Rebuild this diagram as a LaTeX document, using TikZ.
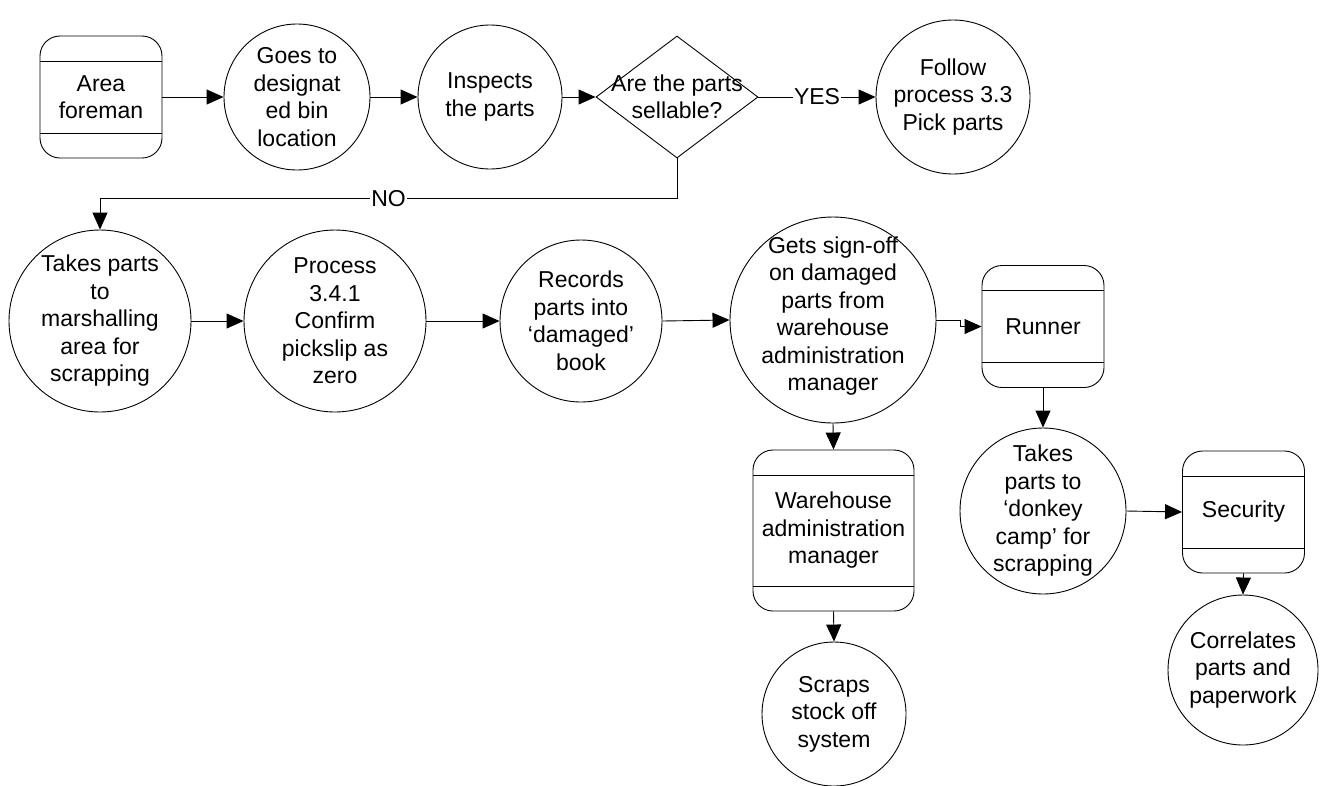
\documentclass[tikz,border=0pt]{standalone}
\usepackage{fontspec}
\setmainfont{Liberation Sans}
\usetikzlibrary{arrows.meta,shapes.geometric}

\begin{document}
\begin{tikzpicture}[x=1pt,y=-1pt,
  every node/.style={font=\fontsize{23}{27.5}\selectfont, align=center},
  txt/.style={inner sep=0pt},
  edge line/.style={line width=0.9pt, draw=black},
  flow/.style={edge line, -{Triangle[length=17pt,width=15pt]}},
  bubble/.style={draw, line width=0.9pt, circle, inner sep=0pt, minimum size=#1},
  actor/.style={draw, line width=0.9pt, rounded corners=20pt, inner sep=0pt,
    minimum width=#1, minimum height=#1,
    path picture={
      \draw[line width=0.9pt]
        ([yshift=-25pt]path picture bounding box.north west) --
        ([yshift=-25pt]path picture bounding box.north east);
      \draw[line width=0.9pt]
        ([yshift=25pt]path picture bounding box.south west) --
        ([yshift=25pt]path picture bounding box.south east);
    }},
  decision/.style={draw, line width=0.9pt, diamond, inner sep=0pt,
    minimum width=162pt, minimum height=122pt},
  tag/.style={fill=white, inner sep=1pt}
]
\fill[white] (0,0) rectangle (1332,785);
\useasboundingbox (0,0) rectangle (1332,785);

% top row
\node[actor=122pt] (fore) at (101,97) {};
\node[txt] (fore-t) at (fore) {Area\\foreman};
\node[bubble=146pt] (goes) at (297,97) {};
\node[txt] (goes-t) at (goes) {Goes to\\designat\\ed bin\\location};
\node[bubble=144pt] (insp) at (490,97) {};
\node[txt] (insp-t) at (insp) {Inspects\\the parts};
\node[decision] (dec) at (677,97) {};
\node[txt] (dec-t) at (dec) {Are the parts\\sellable?};
\node[bubble=154pt] (follow) at (953,97) {};
\node[txt] (follow-t) at (follow) {Follow\\process 3.3\\Pick parts};

% second row
\node[bubble=182pt] (take) at (100,321) {};
\node[txt] (take-t) at (take) {Takes parts\\to\\marshalling\\area for\\scrapping};
\node[bubble=182pt] (proc) at (335,321) {};
\node[txt] (proc-t) at (proc) {Process\\3.4.1\\Confirm\\pickslip as\\zero};
\node[bubble=162pt] (rec) at (581,321) {};
\node[txt] (rec-t) at (rec) {Records\\parts into\\‘damaged’\\book};
\node[bubble=206pt] (sign) at (833,320) {};
\node[txt] (sign-t) at ([yshift=4pt]sign.center) {Gets sign-off\\on damaged\\parts from\\warehouse\\administration\\manager};
\node[actor=122pt] (runner) at (1043,326.5) {};
\node[txt] (runner-t) at (runner) {Runner};

% lower branches
\node[actor=161pt] (wh) at (833.5,530.5) {};
\node[txt] (wh-t) at (wh) {Warehouse\\administration\\manager};
\node[bubble=144pt] (scraps) at (834,714) {};
\node[txt] (scraps-t) at (scraps) {Scraps\\stock off\\system};
\node[bubble=166pt] (donkey) at (1043,511) {};
\node[txt] (donkey-t) at (donkey) {Takes\\parts to\\‘donkey\\camp’ for\\scrapping};
\node[actor=122pt] (sec) at (1243.5,512) {};
\node[txt] (sec-t) at (sec) {Security};
\node[bubble=150pt] (corr) at (1243,670) {};
\node[txt] (corr-t) at (corr) {Correlates\\parts and\\paperwork};

% connectors
\draw[flow] (fore.east) -- (goes.west);
\draw[flow] (goes.east) -- (insp.west);
\draw[flow] (insp.east) -- (dec.west);
\draw[flow] (dec.east) -- node[tag] (yes) {YES} (follow.west);
\draw[flow] (dec.south) -- ++(0,40) -| node[tag, pos=0.25] (no) {NO} (take.north);
\draw[flow] (take.east) -- (proc.west);
\draw[flow] (proc.east) -- (rec.west);
\draw[flow] (rec.east) -- (sign.west);
\draw[flow] (sign.east) -- ++(24,0) |- (runner.west);
\draw[flow] (sign.south) -- (wh.north);
\draw[flow] (wh.south) -- (scraps.north);
\draw[flow] (runner.south) -- (donkey.north);
\draw[flow] (donkey.east) -- (sec.west);
\draw[flow] (sec.south) -- (corr.north);
\end{tikzpicture}
\end{document}
